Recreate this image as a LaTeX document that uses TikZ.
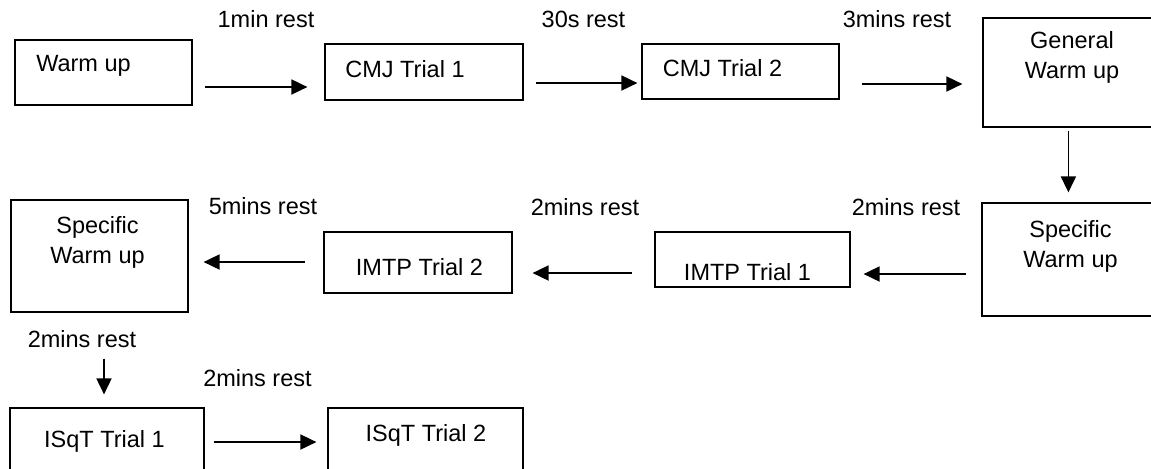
\documentclass[tikz,border=0pt]{standalone}
\usepackage{fontspec}
\setmainfont{Liberation Sans}
\usetikzlibrary{arrows.meta, calc}
\tikzstyle{arrow} = [line width=0.9pt, -{Triangle[length=8pt,width=7.5pt]}]
\tikzstyle{stage} = [draw, rectangle, line width=0.6pt, inner sep=0pt]
\tikzstyle{txt} = [inner sep=0pt, text height=0.72em, text depth=0pt]
\tikzstyle{twoline} = [inner sep=0pt, align=center]

\begin{document}
\begin{tikzpicture}[x=0.5pt, y=-0.5pt, every node/.style={font=\fontsize{11.75}{15}\selectfont}]
        \useasboundingbox (0,0) rectangle (1151,468);
        \clip (0,0) rectangle (1151,468);

        % top row
        \node at (103.5,72.5) [stage, minimum width=88.5pt, minimum height=32.5pt] (wu) {};
        \node at (424,72) [stage, minimum width=99pt, minimum height=28pt] (cmj1) {};
        \node at (740.5,71.5) [stage, minimum width=98.5pt, minimum height=27.5pt] (cmj2) {};
        \node at (1073,72.5) [stage, minimum width=90pt, minimum height=54.5pt] (gwu) {};
        \node at (83.5,64) [txt] (t-wu) {Warm up};
        \node at (405,70) [txt] (t-cmj1) {CMJ Trial 1};
        \node at (722.5,69.5) [txt] (t-cmj2) {CMJ Trial 2};
        \node at (1072,57) [twoline] (t-gwu) {General\\Warm up};

        % middle row
        \node at (1072,259.5) [stage, minimum width=90pt, minimum height=56.5pt] (swur) {};
        \node at (752.5,259.5) [stage, minimum width=97.5pt, minimum height=27.5pt] (imtp1) {};
        \node at (418,262.5) [stage, minimum width=94pt, minimum height=30.5pt] (imtp2) {};
        \node at (99.5,256) [stage, minimum width=88.5pt, minimum height=56pt] (swul) {};
        \node at (1070.5,246) [twoline] (t-swur) {Specific\\Warm up};
        \node at (747.5,273) [txt] (t-imtp1) {IMTP Trial 1};
        \node at (419.5,268.5) [txt] (t-imtp2) {IMTP Trial 2};
        \node at (97.5,242) [twoline] (t-swul) {Specific\\Warm up};

        % bottom row
        \node at (107,440.5) [stage, minimum width=97pt, minimum height=32.5pt] (isqt1) {};
        \node at (425.5,440.5) [stage, minimum width=97.5pt, minimum height=32.5pt] (isqt2) {};
        \node at (104.5,440) [txt] (t-isqt1) {ISqT Trial 1};
        \node at (426,434) [txt] (t-isqt2) {ISqT Trial 2};

        % rest labels
        \node at (266,20.5) [txt] (r1) {1min rest};
        \node at (583.5,20.5) [txt] (r2) {30s rest};
        \node at (897,20.5) [txt] (r3) {3mins rest};
        \node at (906,208) [txt] (r4) {2mins rest};
        \node at (585,208) [txt] (r5) {2mins rest};
        \node at (263,207.5) [txt] (r6) {5mins rest};
        \node at (82,340) [txt] (r7) {2mins rest};
        \node at (257.5,379.5) [txt] (r8) {2mins rest};

        \draw[arrow] ($(wu.east)+(12,14.5)$) -- ($(cmj1.west)+(-17,15)$);
        \draw[arrow] ($(cmj1.east)+(12,11)$) -- ($(cmj2.west)+(-4,11.5)$);
        \draw[arrow] ($(cmj2.east)+(22,12.5)$) -- ($(gwu.west)+(-20,11.5)$);
        \draw[arrow] ($(gwu.south west)+(86,3)$) -- ($(swur.north west)+(87,-10)$);
        \draw[arrow] ($(swur.west)+(-15,14.5)$) -- ($(imtp1.east)+(13,14.5)$);
        \draw[arrow] ($(imtp1.west)+(-22,13.5)$) -- ($(imtp2.east)+(20,10.5)$);
        \draw[arrow] ($(imtp2.west)+(-18,-0.5)$) -- ($(swul.east)+(15,6)$);
        \draw[arrow] ($(swul.south)+(4.5,46)$) -- ($(isqt1.north)+(-3,-13)$);
        \draw[arrow] ($(isqt1.east)+(9,1.5)$) -- ($(isqt2.west)+(-11,1.5)$);

    \end{tikzpicture}
\end{document}
